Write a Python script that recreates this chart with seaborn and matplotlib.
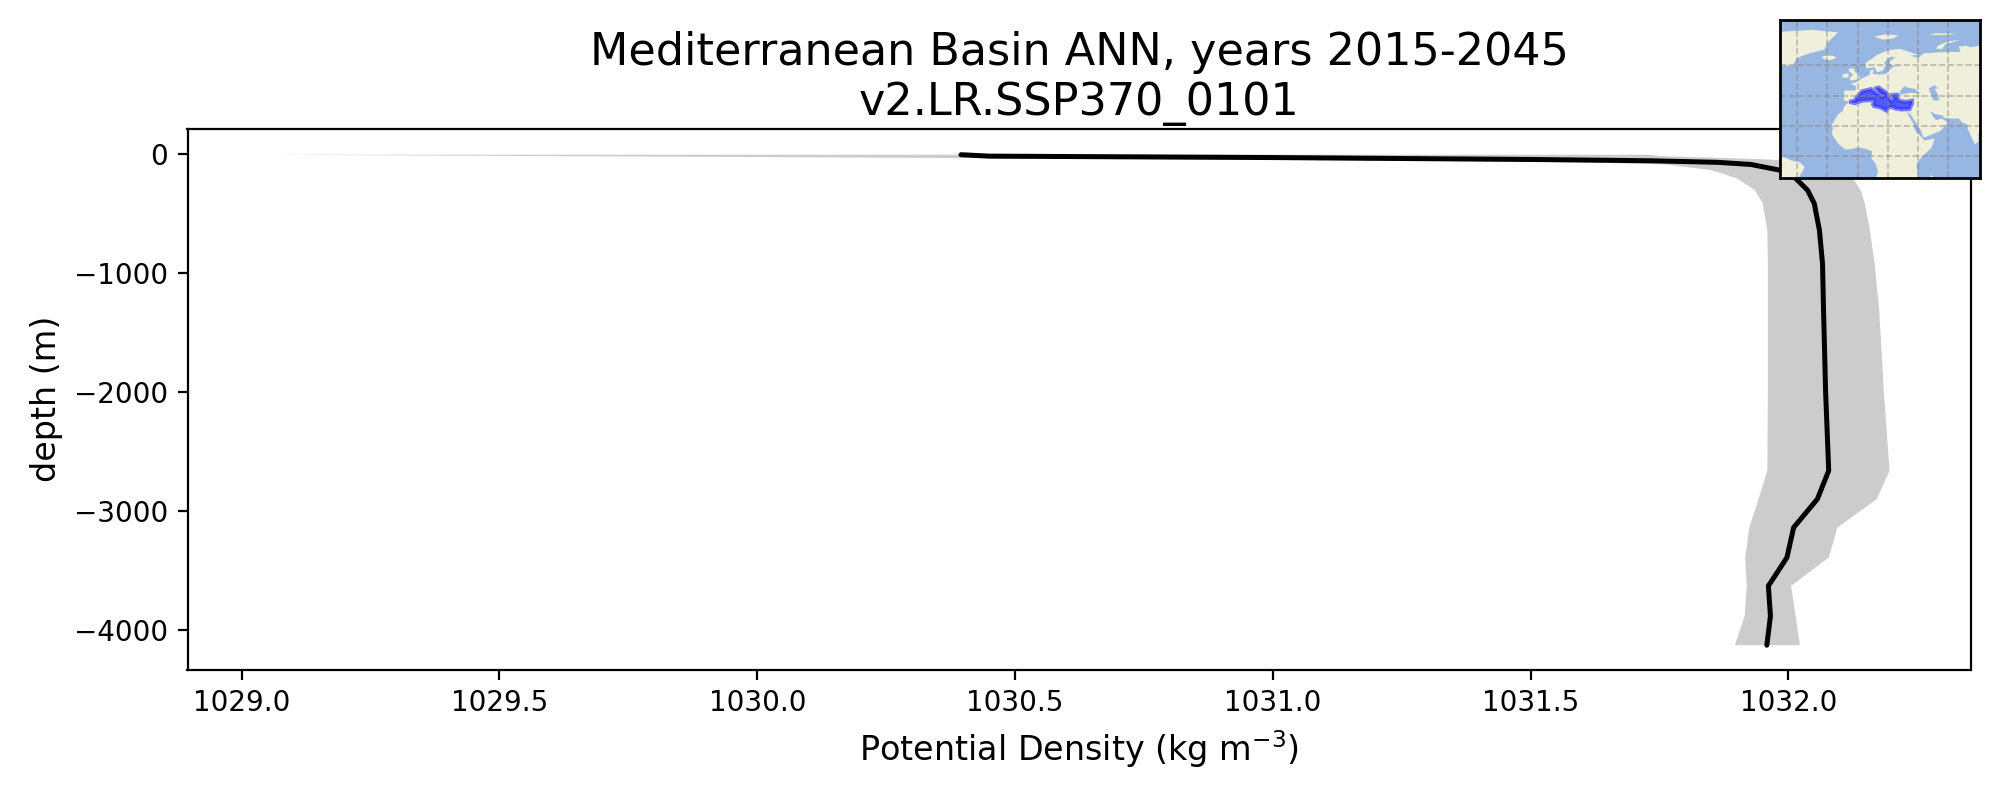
import numpy as np
import pandas as pd
import matplotlib
matplotlib.use('Agg')
import matplotlib.pyplot as plt
import seaborn as sns

# profile
depth = [8, 20, 32, 48, 59, 72, 90, 137, 207, 306, 418, 643, 923, 1316, 2000,
         2663, 2902, 3141, 3393, 3632, 3885, 4130]
rho_mean = [1030.395, 1030.45, 1031.0, 1031.5, 1031.733, 1031.862, 1031.927, 1031.982,
            1032.014, 1032.037, 1032.05, 1032.06, 1032.066, 1032.068, 1032.072,
            1032.078, 1032.056, 1032.01, 1031.997, 1031.961, 1031.965, 1031.958]
rho_low = [1029.058, 1029.6, 1030.2, 1030.9, 1031.3, 1031.6, 1031.76, 1031.85,
           1031.90, 1031.935, 1031.95, 1031.959, 1031.96, 1031.96, 1031.96,
           1031.959, 1031.942, 1031.924, 1031.916, 1031.919, 1031.915, 1031.896]
rho_high = [1031.73, 1031.75, 1031.85, 1031.96, 1032.0, 1032.03, 1032.05, 1032.09,
            1032.125, 1032.14, 1032.148, 1032.158, 1032.167, 1032.176, 1032.185,
            1032.196, 1032.171, 1032.095, 1032.078, 1032.005, 1032.014, 1032.022]

x_ticks = [1029.0, 1029.5, 1030.0, 1030.5, 1031.0, 1031.5, 1032.0]
y_ticks = [0, -1000, -2000, -3000, -4000]

# rough coastlines for the inset (lon, lat)
africa = [(-6, 35.8), (-5, 35.9), (-2, 35.2), (3, 36.8), (10, 37.3), (11, 36.9), (10.2, 34.3),
          (11, 33.2), (15, 32.4), (19, 30.3), (20, 32.3), (23, 32.7), (25, 31.6), (29, 31),
          (32.3, 31.3), (32.5, 29.9), (34, 26.5), (35.5, 24), (37.2, 21), (37.3, 18.7), (39, 16),
          (43, 12), (44, 10.5), (51, 11.8), (49, 6), (44, 1), (40, -3), (39, -6), (39.5, -10),
          (40.5, -15), (12, -15), (13.5, -10), (12, -5), (9, -1), (9.5, 3.5), (5, 5), (1, 6),
          (-4, 5), (-8, 4.5), (-13, 8.5), (-17, 14.7), (-16.5, 19), (-17, 21), (-13, 27.8),
          (-9.7, 30), (-9, 33)]
eurasia = [(-5.5, 36), (-9, 37), (-9.3, 39), (-8.8, 43.5), (-1.5, 43.5), (-1, 46), (-4.7, 48.3),
           (-1.5, 48.7), (2, 51), (4, 52), (8, 54), (8.5, 57), (10.5, 57.5), (10, 54.5), (14, 54),
           (19, 54.5), (21, 57), (24, 59.3), (30, 60), (23, 60), (21.3, 61), (21.5, 63), (25, 65.5),
           (22, 65.8), (17.5, 62), (18.5, 60), (16.5, 56.5), (13, 55.5), (11, 59), (6, 58), (5, 61.5),
           (13, 67), (20, 70), (28, 71), (40, 67), (35, 66.5), (40, 65), (44, 68), (54, 68.7),
           (68, 69), (67, 72.5), (72, 73), (75, 72), (85, 74), (85, 20), (80, 15.5), (80, 10),
           (77.5, 8), (73, 18), (72.5, 21), (69, 22.5), (67, 25), (62, 25), (57, 25.5), (56.5, 27),
           (51, 28), (48, 30), (50, 26), (52, 24), (56, 25), (56.5, 24.5), (59.8, 22.5), (55, 17),
           (45, 12.8), (43.3, 12.8), (42, 17), (39, 21.5), (35, 28), (34.8, 29.5), (34.3, 27.8),
           (32.7, 29.9), (32.3, 31.2), (34.3, 31.3), (36, 35), (36, 36.7), (32, 36), (30, 36.3),
           (27, 37), (26.2, 39.5), (29, 41), (35, 42), (41.5, 41.5), (38, 44.5), (33, 45.5),
           (31, 46.5), (28, 43), (28, 41.2), (26, 40.7), (23, 40.5), (24, 38), (22.7, 36.5), (21, 38),
           (19.4, 41), (19, 42), (13.7, 45.5), (12.3, 45), (14, 42.2), (18.5, 40), (16.5, 39.5),
           (16, 38), (15.7, 40), (12, 42), (8.8, 44.4), (3, 43), (0, 39.5), (-2, 36.8)]
south_america = [(-55, -15), (-55, 6), (-51, 4.5), (-50, 0), (-44, -2.5), (-38, -4), (-35, -7),
                 (-38.5, -13), (-39, -15)]
greenland = [(-55, 60), (-43, 60), (-40, 65), (-32, 68), (-22, 70.5), (-20, 75), (-13, 81.8),
             (-30, 83.5), (-55, 82)]
iceland = [(-24, 65.5), (-22, 64), (-18, 63.5), (-14, 65), (-16, 66.5), (-22, 66.3)]
britain = [(-5, 50), (1, 51), (1.5, 52.8), (-2, 56), (-2, 57.5), (-5, 58.5), (-6, 56.5), (-3, 54), (-5, 52)]
ireland = [(-10, 52), (-6, 52), (-6, 55), (-10, 54)]
svalbard = [(11, 79), (17, 77), (24, 78), (27, 80), (18, 80.5)]
franz_josef = [(47, 80), (60, 80.2), (65, 81), (52, 81.2)]
novaya = [(52, 71), (56, 71), (58, 74), (68, 76.8), (60, 76), (53, 73)]
madagascar = [(49, -12), (50.5, -15), (47, -15)]
caspian = [(47, 45), (51, 47), (53, 45), (51, 44.5), (53, 41), (54, 37), (50, 37), (49, 40)]
med_sea = [(-5.5, 36), (-2, 36.8), (0, 39.5), (3, 43), (8.8, 44.4), (12, 42), (15.7, 40), (16, 38),
           (16.5, 39.5), (18.5, 40), (14, 42.2), (12.3, 45), (13.7, 45.5), (19, 42), (19.4, 41),
           (21, 38), (22.7, 36.5), (24, 38), (23, 40.5), (26, 40.7), (26.2, 39.5), (27, 37),
           (30, 36.3), (32, 36), (36, 36.7), (36, 35), (34.3, 31.3), (32.3, 31.2), (29, 31),
           (25, 31.6), (23, 32.7), (20, 32.3), (19, 30.3), (15, 32.4), (11, 33.2), (10.2, 34.3),
           (11, 36.9), (10, 37.3), (3, 36.8), (-2, 35.2), (-5, 35.9)]
land = [africa, eurasia, south_america, greenland, iceland, britain, ireland, svalbard,
        franz_josef, novaya, madagascar]
grid_lon = [-40, -20, 0, 20, 40, 60]
grid_lat = [0, 20, 40, 60]

sns.set_theme(style='ticks', rc={'axes.spines.top': True, 'axes.spines.right': True,
                                 'axes.linewidth': 0.8, 'xtick.major.width': 0.8,
                                 'ytick.major.width': 0.8, 'xtick.major.size': 3.5,
                                 'ytick.major.size': 3.5, 'axes.edgecolor': 'black',
                                 'text.color': 'black', 'axes.labelcolor': 'black',
                                 'xtick.color': 'black', 'ytick.color': 'black',
                                 'font.family': 'DejaVu Sans'})

df = pd.DataFrame({'z': -np.array(depth), 'rho': rho_mean})

fig = plt.figure(figsize=(10, 4), dpi=200)
ax = fig.add_axes([187.5 / 2000, 1 - 669.6 / 800, 1783 / 2000, 540.6 / 800])
ax.fill_betweenx(df['z'], rho_low, rho_high, facecolor='black', edgecolor='none', alpha=0.2)
sns.lineplot(data=df, x='rho', y='z', sort=False, estimator=None, color='black', linewidth=1.8, ax=ax)
ax.set_xlim(1028.895, 1032.353)
ax.set_ylim(-4335, 208)
ax.set_xticks(x_ticks)
ax.set_yticks(y_ticks)
ax.tick_params(labelsize=10)
ax.set_xlabel('Potential Density (kg m$^{-3}$)', fontsize=12)
ax.set_ylabel('depth (m)', fontsize=12)
ax.set_title('Mediterranean Basin ANN, years 2015-2045\nv2.LR.SSP370_0101', fontsize=16, pad=5.2)

# inset map
inset = fig.add_axes([1780 / 2000, 1 - 177.7 / 800, 200 / 2000, 157.7 / 800])
inset.set_facecolor('#97B6E1')
for poly in land:
    lon, lat = zip(*poly)
    inset.fill(lon, lat, color='#EFEFDB', linewidth=0)
lon, lat = zip(*caspian)
inset.fill(lon, lat, color='#97B6E1', linewidth=0)
lon, lat = zip(*med_sea)
inset.fill(lon, lat, facecolor=(0.2, 0.2, 1, 0.7), edgecolor=(0.2, 0.2, 1, 0.6), linewidth=1.5)
for g in grid_lon:
    inset.axvline(g, color='gray', alpha=0.5, linestyle='--', linewidth=0.6)
for g in grid_lat:
    inset.axhline(g, color='gray', alpha=0.5, linestyle='--', linewidth=0.6)
inset.set_xlim(-51.4, 81)
inset.set_ylim(-14, 90)
inset.set_xticks([])
inset.set_yticks([])
for s in inset.spines.values():
    s.set_linewidth(1)

fig.savefig('out.png', dpi=200)
